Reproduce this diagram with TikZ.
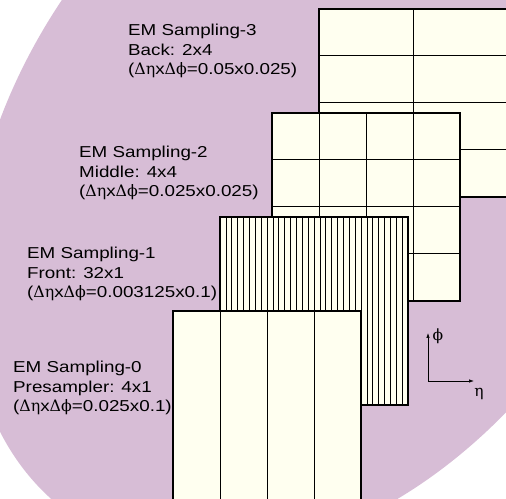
\documentclass[tikz,border=0pt]{standalone}
\usepackage{fontspec}
\setmainfont{Liberation Sans}[FakeStretch=1.19]
\newfontfamily\greekfont{DejaVu Serif}
\usepackage{xcolor}
\usepackage{tikz}
\usetikzlibrary{arrows.meta}
\definecolor{bgpurple}{RGB}{215,189,214}
\definecolor{cellfill}{RGB}{255,255,240}
\newcommand{\cellsize}{({\greekfont Δη}x{\greekfont Δϕ}}

\begin{document}
\begin{tikzpicture}[x=1pt,y=1pt,
    layer/.style={fill=cellfill,draw=black,line width=1.8pt},
    cellline/.style={line width=1pt},
    stripline/.style={line width=0.7pt},
    samplabel/.style={anchor=north west,inner sep=0pt,align=left,
      font=\fontsize{15.8}{19.5}\selectfont},
    axisarrow/.style={-{Latex[length=5pt,width=3.5pt]},line width=0.7pt}]

    % Clip to the figure
    \clip (0,0) rectangle (506,498);

    % Background
    \fill[bgpurple,rotate around={55:(318,334)}] (318,334) ellipse [x radius=429,y radius=304];

    % EM Sampling-3 (back): 2x4
    \filldraw[layer] (319,301) rectangle (509,489);
    \draw[cellline] (413,301) -- (413,489);
    \foreach \y in {348,395,442}
        \draw[cellline] (319,\y) -- (509,\y);

    % EM Sampling-2 (middle): 4x4
    \filldraw[layer] (272,197) rectangle (460,385);
    \foreach \x in {319,366,413}
        \draw[cellline] (\x,197) -- (\x,385);
    \foreach \y in {244,291,338}
        \draw[cellline] (272,\y) -- (460,\y);

    % EM Sampling-1 (front): 32x1
    \filldraw[layer] (220,93) rectangle (408,281);
    \foreach \i in {1,...,31}
        \draw[stripline] ({220+\i*5.875},93) -- ({220+\i*5.875},281);

    % EM Sampling-0 (presampler): 4x1
    \filldraw[layer] (173,-3) rectangle (361,187);
    \foreach \x in {220,267,314}
        \draw[cellline] (\x,-3) -- (\x,187);

    % Labels
    \node[samplabel] (lbl3) at (128,474) {EM Sampling-3\\Back: 2x4\\\cellsize=0.05x0.025)};
    \node[samplabel] (lbl2) at (79,352) {EM Sampling-2\\Middle: 4x4\\\cellsize=0.025x0.025)};
    \node[samplabel] (lbl1) at (27,251) {EM Sampling-1\\Front: 32x1\\\cellsize=0.003125x0.1)};
    \node[samplabel] (lbl0) at (13,137) {EM Sampling-0\\Presampler: 4x1\\\cellsize=0.025x0.1)};

    % Axes
    \coordinate (origin) at (428,117);
    \coordinate (phitip) at (428,165);
    \coordinate (etatip) at (474,117);
    \draw[axisarrow] (origin) -- (phitip);
    \draw[axisarrow] (origin) -- (etatip);
    \node[font=\fontsize{15.5}{19}\greekfont] (philbl) at (438,162) {ϕ};
    \node[font=\fontsize{15.5}{19}\greekfont] (etalbl) at (479,104) {η};

\end{tikzpicture}
\end{document}
